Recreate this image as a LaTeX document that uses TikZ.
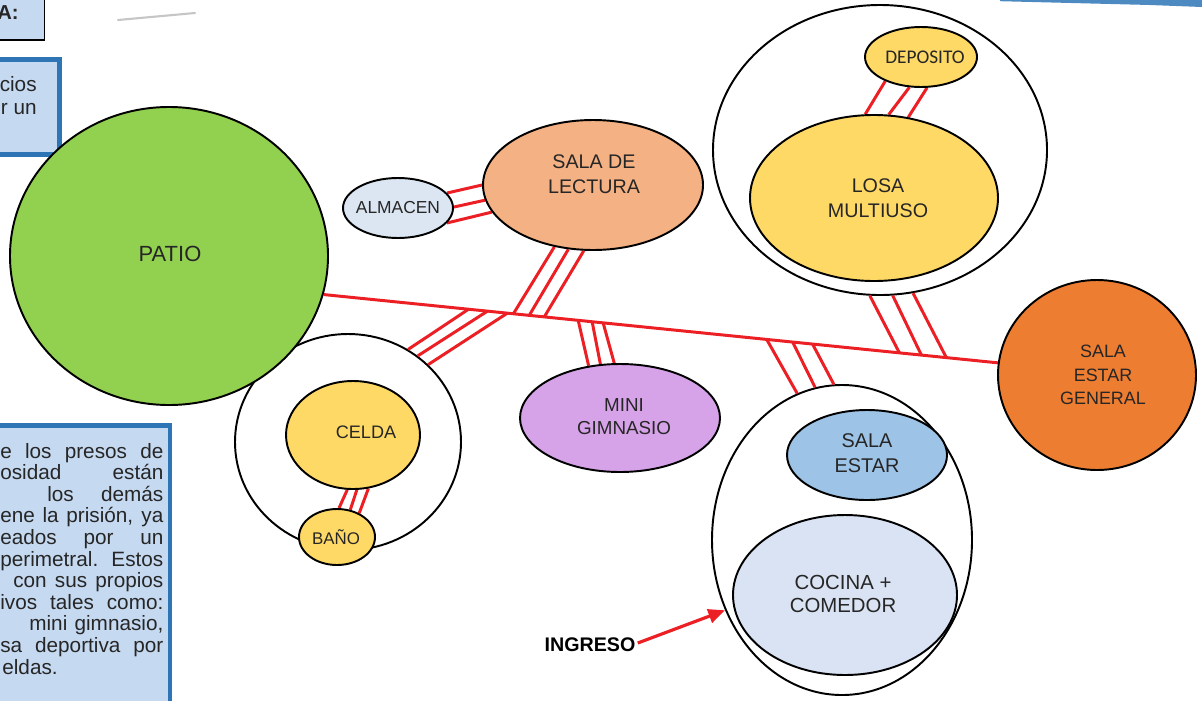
\documentclass[tikz,border=0pt]{standalone}
\usepackage{fontspec}
\setmainfont{Liberation Sans}
\newfontfamily\calibfont{Carlito}
\usetikzlibrary{shapes.geometric,arrows.meta,backgrounds,calc}
\definecolor{lred}{HTML}{EC2024}
\definecolor{patiog}{HTML}{92D050}
\definecolor{almb}{HTML}{DCE6F2}
\definecolor{lectc}{HTML}{F4B183}
\definecolor{yel}{HTML}{FFD966}
\definecolor{sgc}{HTML}{ED7D31}
\definecolor{minic}{HTML}{D7A3E8}
\definecolor{estarc}{HTML}{9DC3E6}
\definecolor{cocc}{HTML}{DAE3F3}
\definecolor{boxf}{HTML}{C5D9F1}
\definecolor{boxb}{HTML}{2E75B6}
\definecolor{txt}{HTML}{262626}
\newlength\pxu
\setlength\pxu{0.02cm}
\newcommand\fs[2]{\fontsize{#1}{#2}\selectfont}
\begin{document}
\begin{tikzpicture}[x=0.02cm,y=-0.02cm,
  room/.style={ellipse, draw=black, line width=1.1pt, inner sep=0pt},
  hollow/.style={ellipse, draw=black, line width=1.1pt, fill=white, inner sep=0pt},
  lbl/.style={text=txt, align=center, inner sep=0pt},
  boxtxt/.style={text=txt, inner sep=0pt, font=\fs{11.8}{13.5}},
  hash/.style={draw=lred, line width=1.7pt},
  mainline/.style={draw=lred, line width=1.7pt},
  ingarrow/.style={draw=lred, line width=1.8pt, -{Triangle[length=9.5pt,width=8pt]}},
  framebox/.style={draw=boxb, line width=2.8pt, fill=boxf}
]
\useasboundingbox (0,0) rectangle (1202,700);

% side boxes
\path[draw=black, line width=1.1pt, fill=boxf] (-10,-10) rectangle (44.5,40.4);
\node[lbl, anchor=east, font=\bfseries\fs{11.5}{13}] (boxA) at (19,13) {A:};
\path[framebox] (-10,59.5) rectangle (59.5,154.5);
\node[boxtxt, anchor=base east] (b2a) at (37,91) {cios};
\node[boxtxt, anchor=base east] (b2b) at (37,114) {r un};
\path[framebox] (-10,425.5) rectangle (170,712);
\node[boxtxt, anchor=base west] (t1) at (0,458) {\makebox[163\pxu][s]{e los presos de}};
\node[boxtxt, anchor=base west] (t2) at (0,479.6) {\makebox[163\pxu][s]{osidad están}};
\node[boxtxt, anchor=base west] (t3) at (47,501.2) {\makebox[116\pxu][s]{los demás}};
\node[boxtxt, anchor=base west] (t4) at (0,522.8) {\makebox[163\pxu][s]{ene la prisión, ya}};
\node[boxtxt, anchor=base west] (t5) at (0,544.4) {\makebox[163\pxu][s]{eados por un}};
\node[boxtxt, anchor=base west] (t6) at (0,566) {\makebox[163\pxu][s]{perimetral. Estos}};
\node[boxtxt, anchor=base west] (t7) at (13,587.6) {\makebox[150\pxu][s]{con sus propios}};
\node[boxtxt, anchor=base west] (t8) at (0,609.2) {\makebox[163\pxu][s]{ivos tales como:}};
\node[boxtxt, anchor=base west] (t9) at (29,630.8) {\makebox[134\pxu][s]{mini gimnasio,}};
\node[boxtxt, anchor=base west] (t10) at (0,652.4) {\makebox[163\pxu][s]{sa deportiva por}};
\node[boxtxt, anchor=base west] (t11) at (2,674) {eldas.};

% decorative strokes at top
\draw[gray!45, line width=1.2pt, line cap=round] (118,20) -- (195,13);
\fill[boxb!85] (1000,0) -- (1202,0) -- (1202,7) -- (1150,5) -- (1000,1.2) -- cycle;

% rooms
\node[room, fill=patiog, minimum width=318\pxu, minimum height=298\pxu] (patio) at (169,256) {};
\node[room, fill=almb, minimum width=110\pxu, minimum height=60\pxu] (alm) at (398,208) {};
\node[room, fill=lectc, minimum width=220\pxu, minimum height=130\pxu] (lect) at (593,185) {};
\node[room, fill=yel, minimum width=112\pxu, minimum height=60\pxu] (dep) at (921,57) {};
\node[room, fill=yel, minimum width=248\pxu, minimum height=166\pxu] (losa) at (874,198) {};
\node[room, fill=sgc, minimum width=198\pxu, minimum height=190\pxu] (sg) at (1097,375) {};
\node[room, fill=minic, minimum width=200\pxu, minimum height=108\pxu] (mini) at (620,418) {};
\node[room, fill=yel, minimum width=134\pxu, minimum height=108\pxu] (celda) at (353,435) {};
\node[room, fill=yel, minimum width=76\pxu, minimum height=56\pxu] (bano) at (337,537) {};
\node[room, fill=estarc, minimum width=160\pxu, minimum height=90\pxu] (estar) at (867,455) {};
\node[room, fill=cocc, minimum width=224\pxu, minimum height=160\pxu] (coc) at (845,595) {};

% labels
\node[lbl, font=\fs{12.5}{15}] (patioT) at (170,254) {PATIO};
\node[lbl, font=\fs{9.9}{12}] (almT) at (398,208) {ALMACEN};
\node[lbl, font=\fs{11.2}{14.2}] (lectT) at (594,174.5) {SALA DE\\LECTURA};
\node[lbl, font=\calibfont\fs{11}{13}] (depT) at (925,57) {DEPOSITO};
\node[lbl, font=\fs{11.2}{14.2}] (losaT) at (878,198.5) {LOSA\\MULTIUSO};
\node[lbl, font=\fs{10.2}{13.3}] (sgT) at (1103,375) {SALA\\ESTAR\\GENERAL};
\node[lbl, font=\fs{10.7}{13}] (miniT) at (624,416.5) {MINI\\GIMNASIO};
\node[lbl, font=\fs{10.3}{12}] (celdaT) at (366,432) {CELDA};
\node[lbl, font=\fs{9.6}{12}] (banoT) at (336,537) {BAÑO};
\node[lbl, font=\fs{11.3}{14.2}] (estarT) at (867,453.5) {SALA\\ESTAR};
\node[lbl, font=\fs{11.6}{13.6}] (cocT) at (843,594) {COCINA +\\COMEDOR};
\node[lbl, font=\bfseries\fs{11.2}{13}, text=black] (ingT) at (590,645) {INGRESO};

\begin{pgfonlayer}{background}
  \node[hollow, minimum width=334\pxu, minimum height=290\pxu] (outT) at (880,150) {};
  \node[hollow, minimum width=226\pxu, minimum height=216\pxu] (outL) at (348,442) {};
  \node[hollow, minimum width=260\pxu, minimum height=310\pxu] (outR) at (842,540) {};
  \coordinate (mA) at (patio.-14);
  \coordinate (mB) at (sg.173);
  % almacen - lectura
  \draw[hash] (alm.17) -- (lect.180);
  \draw[hash] (alm.1) -- (lect.188);
  \draw[hash] (alm.-17) -- (lect.195);
  % lectura - main line
  \draw[hash] (lect.238) -- ($(mA)!0.2815!(mB)$);
  \draw[hash] (lect.249) -- ($(mA)!0.305!(mB)$);
  \draw[hash] (lect.262) -- ($(mA)!0.3273!(mB)$);
  % main line - celda zone
  \draw[hash] ($(mA)!0.215!(mB)$) -- (outL.57);
  \draw[hash] ($(mA)!0.243!(mB)$) -- (outL.51);
  \draw[hash] ($(mA)!0.2725!(mB)$) -- (outL.44);
  % main line - mini gimnasio
  \draw[hash] ($(mA)!0.3776!(mB)$) -- (mini.121);
  \draw[hash] ($(mA)!0.3983!(mB)$) -- (mini.110);
  \draw[hash] ($(mA)!0.4146!(mB)$) -- (mini.96);
  % main line - cocina zone
  \draw[hash] ($(mA)!0.6572!(mB)$) -- (outR.107);
  \draw[hash] ($(mA)!0.6957!(mB)$) -- (outR.100);
  \draw[hash] ($(mA)!0.7252!(mB)$) -- (outR.93);
  % losa zone - main line
  \draw[hash] (outT.266) -- ($(mA)!0.854!(mB)$);
  \draw[hash] (outT.275) -- ($(mA)!0.8866!(mB)$);
  \draw[hash] (outT.283) -- ($(mA)!0.9236!(mB)$);
  % deposito - losa
  \draw[hash] (dep.214) -- (losa.96);
  \draw[hash] (dep.249) -- (losa.80);
  \draw[hash] (dep.281) -- (losa.67);
  % celda - bano
  \draw[hash] (celda.264) -- (bano.86);
  \draw[hash] (celda.274) -- (bano.64);
  \draw[hash] (celda.286) -- (bano.47);
  % main line
  \draw[mainline] (mA) -- (mB);
\end{pgfonlayer}

\draw[ingarrow] ([xshift=2\pxu,yshift=2\pxu]ingT.east) -- (outR.211);
\end{tikzpicture}
\end{document}
